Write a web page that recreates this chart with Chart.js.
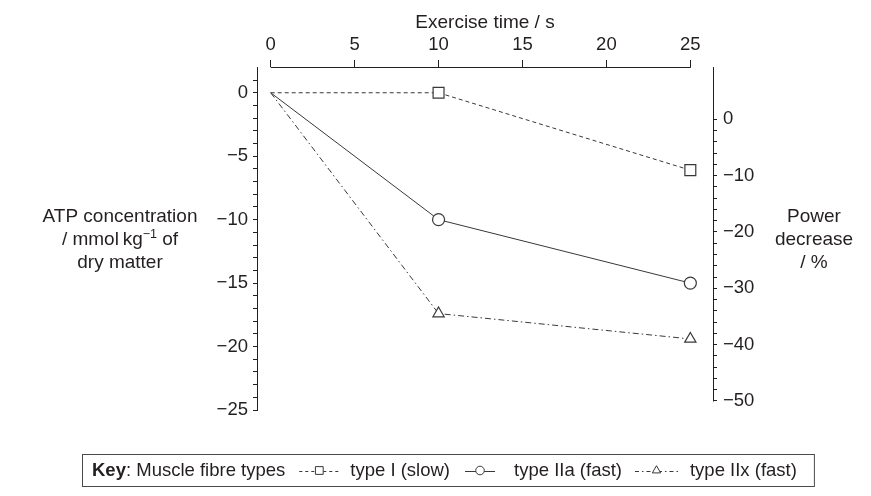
<!DOCTYPE html>
<html>
<head>
<meta charset="utf-8">
<title>ATP and power decrease</title>
<script src="https://cdn.jsdelivr.net/npm/chart.js@4/dist/chart.umd.min.js"></script>
<style>
    html, body { margin: 0; padding: 0; background: #fff; }
</style>
</head>
<body>
<canvas id="atp" width="871" height="496"></canvas>
<script>
// exercise time / s
const exerciseTime = [0, 10, 25];
// ATP change / mmol kg-1 of dry matter
const typeISlow = [0, 0, -6.1];
const typeIIaFast = [0, -10, -15];
const typeIIxFast = [0, -17.4, -19.4];
const seriesNames = ['type I (slow)', 'type IIa (fast)', 'type IIx (fast)'];

// tick labels
const timeTicks = [0, 5, 10, 15, 20, 25];
const atpLabels = [0, -5, -10, -15, -20, -25];
const powerLabels = [0, -10, -20, -30, -40, -50];

const ink = '#231f20';
const lineInk = '#383838';
const fam = '"Liberation Sans", Arial, Helvetica, sans-serif';

function range(from, to, step) {
    let out = [];
    for (let v = from; v <= to + 1e-9; v += step) out.push(Math.round(v * 100) / 100);
    return out;
}
function minus(v) {
    return v < 0 ? '\u2212' + Math.abs(v) : String(v);
}
function points(ys) {
    return exerciseTime.map((t, i) => ({x: t, y: ys[i]}));
}
function align(p) {
    return Math.round(p - 0.5) + 0.5;
}

const datasets = [
    {
        label: seriesNames[0], data: points(typeISlow), yAxisID: 'atp',
        borderColor: lineInk, borderWidth: 1, borderDash: [4, 3], keyDash: [3, 3],
        pointStyle: 'rect', pointRadius: [0, 7.7, 7.7], keyRadius: 5.5
    },
    {
        label: seriesNames[1], data: points(typeIIaFast), yAxisID: 'atp',
        borderColor: lineInk, borderWidth: 1, borderDash: [], keyDash: [],
        pointStyle: 'circle', pointRadius: [0, 6, 6], keyRadius: 4.3
    },
    {
        label: seriesNames[2], data: points(typeIIxFast), yAxisID: 'atp',
        borderColor: lineInk, borderWidth: 1, borderDash: [6, 3, 1.5, 3], keyDash: [4, 3, 1.5, 3],
        pointStyle: 'triangle', pointRadius: [0, 6.5, 6.5], keyRadius: 4.8
    }
];
datasets.forEach(d => {
    d.pointBackgroundColor = '#fff';
    d.pointBorderColor = lineInk;
    d.pointBorderWidth = 1.2;
    d.tension = 0;
});

// axis lines that stop short of the plot edges, side titles and the key box
const extras = {
    id: 'extras',
    afterDraw(chart) {
        const ctx = chart.ctx, area = chart.chartArea;
        const x = chart.scales.x, yR = chart.scales.power;
        ctx.save();
        ctx.strokeStyle = ink;
        ctx.lineWidth = 1;
        ctx.beginPath();
        ctx.moveTo(x.getPixelForValue(timeTicks[0]), align(x.bottom));
        ctx.lineTo(x.getPixelForValue(timeTicks[timeTicks.length - 1]) + 0.5, align(x.bottom));
        ctx.moveTo(align(yR.left), area.top);
        ctx.lineTo(align(yR.left), yR.getPixelForValue(powerLabels[powerLabels.length - 1]) + 0.5);
        ctx.stroke();

        // side titles, horizontal
        ctx.fillStyle = ink;
        ctx.textBaseline = 'alphabetic';
        const mid = (area.top + area.bottom) / 2;
        const base = [mid - 16.5, mid + 6.5, mid + 29.5];
        const big = '19px ' + fam, small = '12.5px ' + fam;
        const lx = area.left - 137;
        ctx.textAlign = 'center';
        ctx.font = big;
        ctx.fillText('ATP concentration', lx, base[0]);
        ctx.fillText('dry matter', lx, base[2]);
        // "/ mmol kg-1 of" with superscript
        const p1 = '/ mmol\u2009kg', p2 = '\u22121', p3 = ' of';
        ctx.font = big; const w1 = ctx.measureText(p1).width, w3 = ctx.measureText(p3).width;
        ctx.font = small; const w2 = ctx.measureText(p2).width;
        let sx = lx - (w1 + w2 + w3) / 2;
        ctx.textAlign = 'left';
        ctx.font = big; ctx.fillText(p1, sx, base[1]);
        ctx.font = small; ctx.fillText(p2, sx + w1, base[1] - 7);
        ctx.font = big; ctx.fillText(p3, sx + w1 + w2, base[1]);

        const rx = yR.left + 101;
        ctx.textAlign = 'center';
        ctx.fillText('Power', rx, base[0]);
        ctx.fillText('decrease', rx, base[1]);
        ctx.fillText('/ %', rx, base[2]);

        // key
        const keyFont = '18.5px ' + fam;
        const boxL = 82, boxT = 454.5, boxH = 32;
        const ky = boxT + boxH / 2;
        ctx.textAlign = 'left';
        ctx.textBaseline = 'middle';
        let kx = 92;
        ctx.font = 'bold ' + keyFont;
        ctx.fillText('Key', kx, ky);
        kx += ctx.measureText('Key').width;
        ctx.font = keyFont;
        ctx.fillText(': Muscle fibre types', kx, ky);
        kx += ctx.measureText(': Muscle fibre types').width;
        const gaps = [[14, 40, 11], [15, 30, 19], [13, 43, 12]];
        datasets.forEach((d, i) => {
            kx += gaps[i][0];
            drawSample(ctx, d, kx, kx + gaps[i][1], ky);
            kx += gaps[i][1] + gaps[i][2];
            ctx.fillStyle = ink;
            ctx.font = keyFont;
            ctx.fillText(d.label, kx, ky);
            kx += ctx.measureText(d.label).width;
        });
        ctx.strokeStyle = '#4a4a4a';
        ctx.lineWidth = 1;
        ctx.strokeRect(boxL + 0.5, boxT, kx + 17 - boxL, boxH);
        ctx.restore();
    }
};

function drawSample(ctx, d, x0, x1, y) {
    ctx.save();
    ctx.strokeStyle = d.borderColor;
    ctx.lineWidth = 1;
    ctx.setLineDash(d.keyDash);
    ctx.beginPath();
    ctx.moveTo(x0, Math.round(y) + 0.5);
    ctx.lineTo(x1, Math.round(y) + 0.5);
    ctx.stroke();
    ctx.setLineDash([]);
    ctx.fillStyle = '#fff';
    Chart.helpers.drawPoint(ctx, {pointStyle: d.pointStyle, rotation: 0, radius: d.keyRadius, borderWidth: 1}, (x0 + x1) / 2, y);
    ctx.restore();
}

const tickFont = {family: fam, size: 18.5};
const sideGrid = {display: true, drawOnChartArea: false, drawTicks: true, tickLength: 4, color: ink, lineWidth: 1};

new Chart(document.getElementById('atp'), {
    type: 'line',
    data: {datasets: datasets},
    plugins: [extras],
    options: {
        responsive: false,
        animation: false,
        layout: {padding: {left: 0, right: 0, top: 0, bottom: 86}},
        plugins: {legend: {display: false}, tooltip: {enabled: false}, title: {display: false}},
        scales: {
            x: {
                type: 'linear', position: 'top', min: -0.816, max: 26.35, bounds: 'data',
                afterBuildTicks: s => { s.ticks = timeTicks.map(v => ({value: v})); },
                afterFit: s => { s.height = 67; },
                ticks: {font: tickFont, color: ink, padding: 4, autoSkip: false, maxRotation: 0, callback: v => minus(v)},
                grid: {display: true, drawOnChartArea: false, drawTicks: true, tickLength: 7, color: ink, lineWidth: 1},
                border: {display: false},
                title: {display: true, text: 'Exercise time / s', font: {family: fam, size: 19}, color: ink, padding: {top: 11, bottom: 0}}
            },
            atp: {
                axis: 'y', type: 'linear', position: 'left', min: -25, max: 2.03, bounds: 'data',
                afterBuildTicks: s => { s.ticks = range(-25, 1, 1).map(v => ({value: v})); },
                afterFit: s => { s.width = 257; },
                ticks: {font: tickFont, color: ink, padding: 5, autoSkip: false,
                    callback: v => atpLabels.includes(v) ? minus(v) : ''},
                grid: sideGrid,
                border: {display: true, color: ink, width: 1}
            },
            power: {
                axis: 'y', type: 'linear', position: 'right', min: -51.6, max: 9.28, bounds: 'data',
                afterBuildTicks: s => { s.ticks = range(-50, 0, 2).map(v => ({value: v})); },
                afterFit: s => { s.width = 158; },
                ticks: {font: tickFont, color: ink, padding: 6, autoSkip: false,
                    callback: v => powerLabels.includes(v) ? minus(v) : ''},
                grid: sideGrid,
                border: {display: false}
            }
        }
    }
});
</script>
</body>
</html>
